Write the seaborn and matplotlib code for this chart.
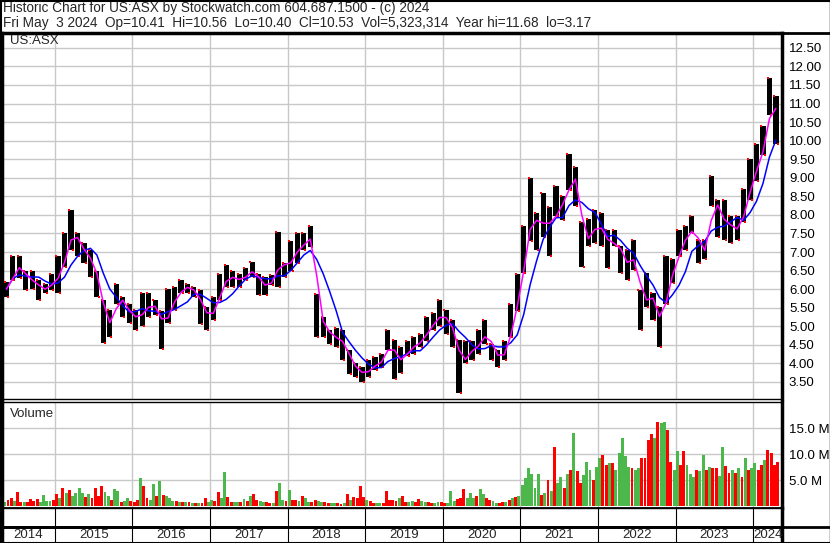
import numpy as np
import pandas as pd
import matplotlib
matplotlib.use("Agg")
import matplotlib.pyplot as plt
from matplotlib.lines import Line2D
import seaborn as sns

# monthly price range, May 2014 .. Apr 2024
months = pd.period_range("2014-05", "2024-04", freq="M")

price_hi = [
    6.20, 6.88, 6.88, 6.50, 6.50, 6.25, 6.15, 6.40,                                  # 2014 May-Dec
    6.88, 7.50, 8.14, 7.50, 7.24, 7.05, 6.50, 5.70, 5.44, 6.15, 5.80, 5.60,          # 2015
    5.44, 5.90, 5.89, 5.70, 5.40, 6.00, 6.06, 6.25, 6.15, 6.06, 5.97, 5.52,          # 2016
    5.80, 6.42, 6.65, 6.50, 6.42, 6.56, 6.74, 6.42, 6.33, 6.38, 7.55, 6.70,          # 2017
    7.30, 7.50, 7.50, 7.70, 5.88, 5.25, 4.90, 4.94, 4.90, 4.35, 4.00, 3.90,          # 2018
    4.08, 4.17, 4.26, 4.90, 4.63, 4.44, 4.60, 4.70, 4.80, 5.25, 5.35, 5.70,          # 2019
    5.44, 5.17, 4.62, 4.60, 4.60, 4.90, 5.17, 4.53, 4.35, 4.60, 5.60, 6.42,          # 2020
    7.70, 9.00, 8.05, 8.60, 8.20, 8.77, 8.50, 9.63, 9.30, 7.80, 7.90, 8.14,          # 2021
    8.05, 7.60, 7.60, 7.15, 7.06, 7.33, 5.98, 6.43, 5.90, 5.53, 6.90, 6.80,          # 2022
    7.60, 7.70, 7.96, 7.33, 7.33, 9.05, 8.40, 8.40, 7.96, 7.96, 8.70, 9.50,          # 2023
    9.90, 10.40, 11.68, 11.20,                                                       # 2024
]
price_lo = [
    5.80, 6.25, 6.30, 5.98, 6.00, 5.70, 5.90, 5.98,
    5.90, 6.60, 7.05, 6.88, 6.70, 6.34, 5.80, 4.54, 4.70, 5.60, 5.26, 5.08,
    4.90, 5.00, 5.26, 5.30, 4.40, 5.08, 5.44, 5.89, 5.90, 5.80, 5.07, 4.90,
    5.16, 5.70, 6.06, 6.06, 6.06, 6.24, 6.33, 5.84, 5.84, 6.10, 6.06, 6.33,
    6.50, 6.70, 7.05, 7.14, 4.70, 4.70, 4.53, 4.44, 4.08, 3.72, 3.63, 3.50,
    3.63, 3.81, 3.90, 4.35, 3.57, 3.75, 4.20, 4.26, 4.44, 4.60, 4.90, 5.00,
    4.80, 4.44, 3.20, 4.00, 4.10, 4.26, 4.53, 4.10, 3.90, 4.08, 4.70, 5.40,
    6.43, 7.30, 7.06, 7.40, 6.90, 7.96, 7.87, 8.68, 8.23, 6.60, 7.15, 7.24,
    7.15, 6.57, 7.15, 6.43, 6.25, 6.52, 4.90, 5.53, 5.17, 4.45, 5.60, 6.16,
    6.90, 7.06, 7.50, 6.70, 6.80, 8.23, 7.40, 7.33, 7.24, 7.33, 7.80, 8.40,
    8.90, 9.60, 10.70, 9.90,
]

# volume in millions, two readings per month (first half, second half)
volume = [
    0.8, 1.2, 1.5, 1.0, 2.8, 0.9, 0.9, 0.8, 1.3, 1.0, 1.3, 0.9, 2.2, 1.0, 1.0, 1.2,
    2.4, 1.5, 3.5, 2.5, 3.1, 2.0, 2.5, 3.5, 2.5, 1.8, 2.4, 1.5, 3.5, 2.0, 3.8, 2.8,
    1.9, 1.2, 3.3, 3.0, 0.9, 1.0, 1.5, 1.0,
    0.9, 1.2, 5.4, 3.8, 1.5, 1.2, 4.3, 2.0, 4.9, 2.2, 1.9, 1.5, 1.0, 1.0, 0.9, 0.8,
    0.9, 0.8, 0.7, 0.7, 0.6, 0.6, 1.5, 0.9,
    1.2, 1.0, 2.8, 1.5, 6.5, 1.8, 0.9, 0.8, 0.9, 0.9, 1.3, 1.0, 2.0, 2.4, 1.1, 1.0,
    0.9, 0.8, 0.7, 0.7, 3.0, 4.5, 1.2, 1.0,
    3.1, 1.2, 1.2, 1.0, 2.0, 1.5, 0.9, 0.8, 1.2, 1.0, 0.9, 0.8, 0.7, 0.7, 0.6, 0.6,
    0.5, 0.6, 2.4, 1.2, 1.7, 1.6, 3.9, 1.8,
    1.2, 1.0, 0.7, 0.7, 0.7, 0.7, 3.0, 1.2, 1.2, 1.0, 1.5, 2.0, 0.9, 0.8, 1.0, 0.9,
    1.3, 1.0, 0.9, 0.8, 0.6, 0.6, 0.9, 0.8,
    0.6, 0.7, 3.0, 1.0, 1.3, 1.6, 3.3, 1.5, 2.5, 1.5, 2.0, 3.3, 2.4, 1.5, 1.2, 1.0,
    0.7, 0.7, 0.9, 0.9, 1.2, 1.5, 1.7, 2.0,
    4.1, 5.4, 7.3, 6.2, 3.5, 6.2, 2.2, 2.5, 5.1, 3.0, 11.5, 4.5, 5.7, 3.5, 6.2, 7.0,
    14.1, 6.7, 4.4, 6.0, 8.6, 7.0, 5.1, 7.5,
    9.2, 9.9, 8.0, 8.4, 8.4, 7.0, 10.2, 13.1, 9.6, 7.5, 7.3, 7.0, 7.3, 9.2, 9.2, 12.8,
    14.0, 13.1, 16.2, 16.0, 16.2, 14.7, 8.6, 7.0,
    10.6, 8.0, 10.6, 8.0, 6.3, 5.7, 7.0, 6.7, 9.9, 7.0, 7.6, 7.4, 7.4, 5.8, 11.5, 7.7,
    6.4, 7.0, 6.4, 7.4, 5.7, 9.2, 7.0, 7.4,
    8.3, 7.0, 8.0, 9.0, 10.8, 10.2, 8.0, 8.6,
]
volume_up = (
    "grrgrrgrrrrggggr"
    "rgrgrggggrgrrrrg"
    "grggrggr"
    "rrgrrggrgrgggrgr"
    "grgrgrrg"
    "grrggrrggrgrgrrg"
    "grrgrggr"
    "grrgrggrrggrrggr"
    "rgrgrrrr"
    "grrggrrrrrgrrggr"
    "rggrrggr"
    "rgggrrrgggrggrrg"
    "grrgrgrg"
    "ggggggrgrgrggrgr"
    "grrgggrg"
    "grrgrgggggrggrrr"
    "rgrggrrg"
    "grrgggrggrgrrggr"
    "rgrgrgrg"
    "grrgrrrr"
)

year_labels = ["2014", "2015", "2016", "2017", "2018", "2019", "2020",
               "2021", "2022", "2023", "2024"]
price_ticks = np.arange(3.5, 12.51, 0.5)
volume_ticks = [5, 10, 15]

header_1 = "Historic Chart for US:ASX by Stockwatch.com 604.687.1500 - (c) 2024"
header_2 = ("Fri May  3 2024  Op=10.41  Hi=10.56  Lo=10.40  Cl=10.53  "
            "Vol=5,323,314  Year hi=11.68  lo=3.17")

# ---------------------------------------------------------------------------
sns.set_style("white")
plt.rcParams["font.family"] = ["Liberation Sans", "DejaVu Sans"]

t = months.year + (months.month - 0.5) / 12.0
df = pd.DataFrame({"t": t, "hi": price_hi, "lo": price_lo})
df["mid"] = (df["hi"] + df["lo"]) / 2
df["ma_fast"] = df["mid"].rolling(2, min_periods=1).mean()
df["ma_slow"] = df["mid"].rolling(5, min_periods=1).mean()

vol_t = np.repeat(t.values, 2) + np.tile([-1 / 48, 1 / 48], len(t))
vol = pd.DataFrame({"t": vol_t, "v": volume,
                    "c": ["#4cb84c" if c == "g" else "#ff0000" for c in volume_up]})

W, H = 830, 543
X0, X1 = 2014.319, 2024.37
grid_c = "#c8c8c8"

fig = plt.figure(figsize=(W / 100, H / 100), dpi=100)
left = 2 / W
width = 782 / W - left


def px_box(top, bottom):
    return [left, 1 - bottom / H, width, (bottom - top) / H]


ax_p = fig.add_axes(px_box(33, 399))
ax_v = fig.add_axes(px_box(402, 508))
ax_d = fig.add_axes(px_box(508, 543))

years = np.arange(2015, 2025)

# price panel
for y in price_ticks:
    ax_p.axhline(y, color=grid_c, lw=1, zorder=0)
for yr in years:
    ax_p.axvline(yr, color=grid_c, lw=1, zorder=0)
ax_p.bar(df["t"], df["hi"] - df["lo"], bottom=df["lo"], width=0.8 / 12,
         color="black", lw=0, zorder=2)
ax_p.scatter(df["t"] + 0.25 / 12, df["lo"], s=4, marker="s", color="red",
             lw=0, zorder=3)
ax_p.scatter(df["t"] - 0.25 / 12, df["hi"], s=4, marker="s", color="red",
             lw=0, zorder=3)
sns.lineplot(data=df, x="t", y="ma_slow", color="#0000ff", lw=1.1, ax=ax_p, zorder=4)
sns.lineplot(data=df, x="t", y="ma_fast", color="#ff00ff", lw=1.1, ax=ax_p, zorder=5)
ax_p.set_xlim(X0, X1)
ax_p.set_ylim(3.04, 12.9)
ax_p.set_xticks([])
ax_p.set_yticks(price_ticks)
ax_p.set_yticklabels([f"{v:.2f}" for v in price_ticks])
ax_p.text(8 / 780, 1 - 8 / 366, "US:ASX", transform=ax_p.transAxes,
          fontsize=9.5, va="center", ha="left")

# volume panel
for y in volume_ticks:
    ax_v.axhline(y, color=grid_c, lw=1, zorder=0)
for yr in years:
    ax_v.axvline(yr, color=grid_c, lw=1, zorder=0)
ax_v.bar(vol["t"], vol["v"], width=0.9 / 24, color=vol["c"], lw=0, zorder=2)
ax_v.set_xlim(X0, X1)
ax_v.set_ylim(-0.35, 20.1)
ax_v.set_xticks([])
ax_v.set_yticks(volume_ticks)
ax_v.set_yticklabels([f"{v:.1f} M" for v in volume_ticks])
ax_v.text(8 / 780, 1 - 12 / 106, "Volume", transform=ax_v.transAxes,
          fontsize=9.5, va="center", ha="left")

# date strip
ax_d.set_xlim(X0, X1)
ax_d.set_ylim(0, 35)
for yr in years:
    ax_d.axvline(yr, color="black", lw=0.8)
ax_d.axhline(16, color="black", lw=2)
edges = [X0] + list(years) + [X1]
for i, lab in enumerate(year_labels):
    ax_d.text((edges[i] + edges[i + 1]) / 2, 7.5, lab, ha="center", va="center",
              fontsize=9.5)
ax_d.set_xticks([])
ax_d.set_yticks([])

for ax in (ax_p, ax_v, ax_d):
    ax.set_xlabel("")
    ax.set_ylabel("")
    ax.yaxis.tick_right()
    ax.tick_params(axis="y", length=0, pad=5, labelsize=9.5, colors="black")
    for s in ax.spines.values():
        s.set_color("black")
        s.set_linewidth(1)
    ax.spines["left"].set_linewidth(2.5)
    ax.spines["right"].set_linewidth(2.5)
ax_p.spines["top"].set_linewidth(2.5)
ax_v.spines["bottom"].set_linewidth(2)
ax_d.spines["bottom"].set_linewidth(2)

# header and outer frame
fig.text(3 / W, 1 - 12 / H, header_1, fontsize=9.8, va="baseline", ha="left")
fig.text(3 / W, 1 - 27 / H, header_2, fontsize=9.8, va="baseline", ha="left")
fig.add_artist(Line2D([0, 1], [1 - 0.5 / H, 1 - 0.5 / H], color="black", lw=1.5))
fig.add_artist(Line2D([0.5 / W, 0.5 / W], [0, 1], color="black", lw=1.5))
fig.add_artist(Line2D([1 - 0.5 / W, 1 - 0.5 / W], [0, 1], color="black", lw=1))
fig.add_artist(Line2D([0, 1], [0.5 / H, 0.5 / H], color="black", lw=1.5))
fig.add_artist(Line2D([0, 1], [1 - 32.5 / H, 1 - 32.5 / H], color="black", lw=2))
fig.add_artist(Line2D([0, 1], [1 - 527 / H, 1 - 527 / H], color="black", lw=2))

fig.savefig("out.png", dpi=100, facecolor="white")
